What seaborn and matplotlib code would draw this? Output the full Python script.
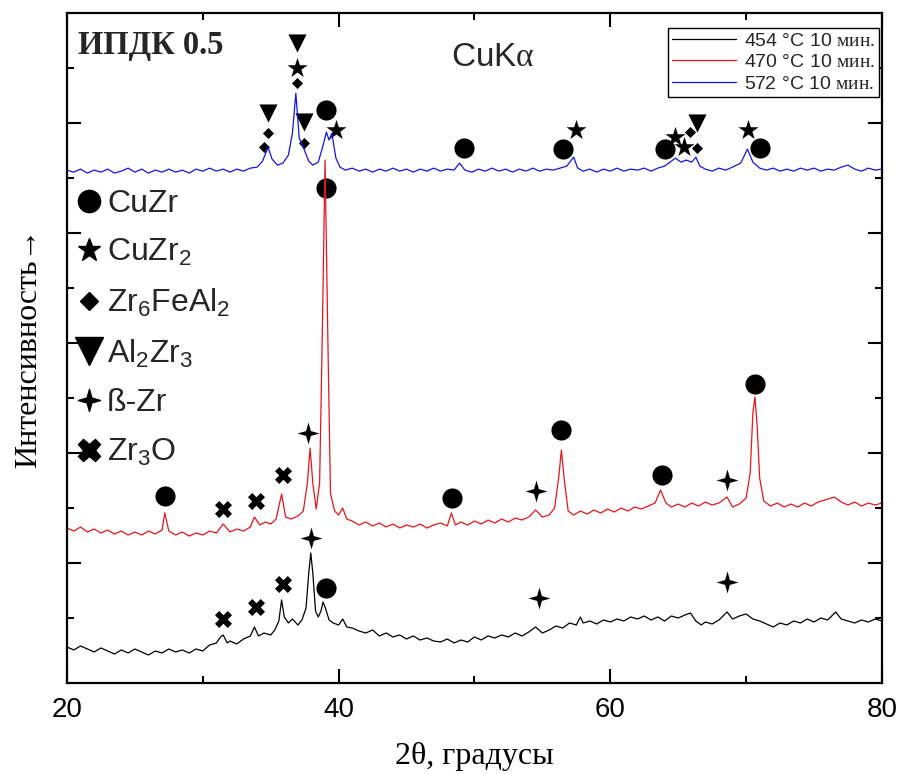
import matplotlib.pyplot as plt
import seaborn as sns
from matplotlib.lines import Line2D
from matplotlib.path import Path

sns.set_theme(style="ticks")
plt.rcParams["font.family"] = ["Liberation Sans", "DejaVu Sans"]
plt.rcParams["mathtext.fontset"] = "custom"
plt.rcParams["mathtext.rm"] = "Liberation Serif"
plt.rcParams["mathtext.default"] = "regular"

# --- XRD patterns (2theta, intensity in arbitrary units, curves already offset) ---
tt_454 = [20.0, 20.5, 21.0, 21.5, 22.0, 22.5, 23.0, 23.5, 24.0, 24.5, 25.0, 25.5, 26.0, 26.5, 27.0,
          27.5, 28.0, 28.5, 29.0, 29.5, 30.0, 30.5, 31.0, 31.3, 31.5, 31.8, 32.0, 32.5, 33.0, 33.5,
          33.8, 34.1, 34.5, 35.0, 35.3, 35.6, 35.8, 36.0, 36.3, 36.6, 37.0, 37.3, 37.6, 37.8, 37.95,
          38.1, 38.3, 38.5, 38.7, 38.85, 39.0, 39.3, 39.6, 40.0, 40.3, 40.6, 41.0, 41.5, 42.0, 42.5,
          43.0, 43.5, 44.0, 44.5, 45.0, 45.5, 46.0, 46.5, 47.0, 47.5, 48.0, 48.5, 49.0, 49.5, 50.0,
          50.5, 51.0, 51.5, 52.0, 52.5, 53.0, 53.5, 54.0, 54.5, 55.0, 55.5, 56.0, 56.5, 57.0, 57.5,
          57.8, 58.0, 58.5, 59.0, 59.5, 60.0, 60.5, 61.0, 61.5, 62.0, 62.5, 63.0, 63.5, 64.0, 64.5,
          65.0, 65.5, 65.9, 66.3, 66.7, 67.0, 67.5, 68.0, 68.6, 69.0, 69.5, 70.0, 70.5, 71.0, 71.5,
          72.0, 72.5, 73.0, 73.5, 74.0, 74.5, 75.0, 75.5, 76.0, 76.6, 77.0, 77.5, 78.0, 78.5, 79.0,
          79.5, 80.0]
i_454 = [36, 33, 37, 34, 31, 35, 32, 29, 33, 30, 34, 31, 28, 32, 30,
         34, 31, 33, 30, 34, 32, 38, 40, 46, 48, 40, 42, 39, 44, 47,
         56, 47, 50, 48, 53, 62, 83, 66, 60, 64, 58, 63, 75, 110, 130,
         110, 72, 66, 72, 81, 76, 63, 60, 58, 64, 56, 55, 52, 50, 53,
         47, 50, 46, 48, 44, 47, 43, 45, 42, 41, 44, 40, 43, 41, 46,
         43, 47, 45, 48, 46, 50, 47, 51, 56, 50, 53, 57, 55, 60, 58,
         66, 60, 62, 59, 63, 61, 64, 62, 66, 64, 67, 63, 66, 62, 67,
         65, 68, 70, 62, 58, 61, 59, 63, 71, 64, 67, 69, 64, 62, 59,
         56, 60, 58, 62, 60, 64, 61, 65, 63, 71, 64, 62, 60, 63, 61,
         64, 62]

tt_470 = [20.0, 20.5, 21.0, 21.5, 22.0, 22.5, 23.0, 23.5, 24.0, 24.5, 25.0, 25.5, 26.0, 26.5, 27.0,
          27.2, 27.5, 28.0, 28.5, 29.0, 29.5, 30.0, 30.5, 31.0, 31.5, 32.0, 32.5, 33.0, 33.5, 33.8,
          34.2, 34.6, 35.0, 35.4, 35.8, 36.1, 36.5, 37.0, 37.4, 37.7, 37.9, 38.1, 38.35, 38.6, 38.8,
          39.0, 39.2, 39.4, 39.7, 40.0, 40.3, 40.6, 41.0, 41.5, 42.0, 42.5, 43.0, 43.5, 44.0, 44.5,
          45.0, 45.5, 46.0, 46.5, 47.0, 47.5, 48.0, 48.3, 48.6, 49.0, 49.5, 50.0, 50.5, 51.0, 51.5,
          52.0, 52.5, 53.0, 53.5, 54.0, 54.5, 55.0, 55.5, 55.9, 56.2, 56.4, 56.6, 56.9, 57.3, 57.8,
          58.3, 58.8, 59.3, 59.8, 60.3, 60.8, 61.3, 61.8, 62.3, 62.8, 63.3, 63.7, 64.1, 64.5, 65.0,
          65.5, 66.0, 66.5, 67.0, 67.5, 68.0, 68.6, 69.0, 69.5, 70.0, 70.3, 70.5, 70.65, 70.8, 71.0,
          71.3, 71.8, 72.3, 72.8, 73.3, 73.8, 74.3, 74.8, 75.3, 75.8, 76.5, 77.0, 77.5, 78.0, 78.5,
          79.0, 79.5, 80.0]
i_470 = [155, 152, 156, 151, 154, 150, 153, 149, 152, 148, 151, 148, 152, 149, 153,
         170, 152, 148, 151, 147, 150, 148, 152, 150, 159, 151, 154, 152, 156, 166,
         158, 161, 159, 164, 189, 166, 164, 167, 172, 200, 235, 200, 174, 200, 350,
         523, 350, 190, 172, 168, 175, 164, 162, 158, 161, 157, 160, 156, 159, 155,
         158, 156, 159, 155, 158, 160, 157, 170, 158, 161, 158, 162, 159, 163, 160,
         164, 161, 165, 163, 166, 173, 166, 168, 175, 205, 233, 205, 172, 168, 172,
         169, 173, 170, 174, 171, 175, 172, 176, 174, 177, 180, 193, 180, 176, 179,
         176, 180, 177, 181, 178, 180, 186, 176, 179, 185, 210, 270, 286, 260, 205,
         182, 177, 180, 176, 179, 176, 180, 177, 181, 183, 186, 181, 178, 181, 177,
         180, 178, 180]

tt_572 = [20.0, 20.5, 21.0, 21.5, 22.0, 22.5, 23.0, 23.5, 24.0, 24.5, 25.0, 25.5, 26.0, 26.5, 27.0,
          27.5, 28.0, 28.5, 29.0, 29.5, 30.0, 30.5, 31.0, 31.5, 32.0, 32.5, 33.0, 33.5, 34.0, 34.4,
          34.8, 35.1, 35.5, 35.9, 36.3, 36.6, 36.85, 37.1, 37.45, 37.8, 38.1, 38.5, 38.8, 39.1, 39.3,
          39.5, 39.8, 40.1, 40.5, 41.0, 41.5, 42.0, 42.5, 43.0, 43.5, 44.0, 44.5, 45.0, 45.5, 46.0,
          46.5, 47.0, 47.5, 48.0, 48.5, 48.9, 49.3, 49.8, 50.3, 50.8, 51.3, 51.8, 52.3, 52.8, 53.3,
          53.8, 54.3, 54.8, 55.3, 55.8, 56.3, 56.8, 57.3, 57.6, 58.0, 58.5, 59.0, 59.5, 60.0, 60.5,
          61.0, 61.5, 62.0, 62.5, 63.0, 63.5, 64.0, 64.8, 65.2, 65.6, 66.0, 66.3, 66.6, 67.0, 67.5,
          68.0, 68.5, 69.0, 69.6, 70.1, 70.5, 71.0, 71.5, 72.0, 72.5, 73.0, 73.5, 74.0, 74.5, 75.0,
          75.5, 76.0, 76.5, 77.0, 77.5, 78.0, 78.5, 79.0, 79.5, 80.0]
i_572 = [513, 511, 514, 510, 513, 511, 514, 510, 512, 515, 511, 514, 510, 513, 511,
         514, 511, 513, 510, 514, 512, 515, 512, 514, 511, 514, 512, 515, 516, 522,
         536, 524, 518, 520, 528, 550, 590, 545, 534, 522, 518, 521, 535, 551, 543,
         550, 525, 516, 513, 515, 512, 514, 511, 514, 512, 515, 512, 514, 511, 514,
         512, 515, 512, 514, 513, 520, 513, 511, 514, 512, 515, 512, 514, 511, 514,
         512, 515, 512, 514, 513, 515, 517, 526, 515, 512, 514, 511, 514, 512, 515,
         512, 514, 513, 515, 512, 515, 517, 525, 521, 523, 521, 526, 517, 514, 512,
         515, 513, 516, 520, 534, 521, 515, 513, 515, 512, 514, 512, 515, 513, 515,
         512, 514, 513, 516, 518, 514, 512, 515, 513, 514]

# --- phase markers ---
cuzr_x = [39.07, 49.2, 56.5, 64.0, 71.0, 39.07, 27.2, 48.35, 56.4, 63.8, 70.65, 39.07]
cuzr_y = [573, 535, 534, 534, 535, 495, 187, 185, 253, 208, 299, 95]
cuzr2_x = [36.9, 39.8, 57.5, 64.8, 65.4, 70.15]
cuzr2_y = [615, 553, 553, 546, 536, 553]
zr6feal2_x = [34.8, 34.5, 36.9, 37.45, 65.9, 66.4]
zr6feal2_y = [550, 536, 600, 540, 551, 535]
al2zr3_x = [34.8, 36.9, 37.45, 66.4]
al2zr3_y = [570, 640, 561, 560]
bzr_x = [37.75, 54.5, 68.6, 38.0, 54.75, 68.6]
bzr_y = [250, 192, 203, 145, 85, 101]
zr3o_x = [31.5, 33.9, 35.9, 31.5, 33.9, 35.9]
zr3o_y = [174, 182, 208, 64, 76, 99]

series_labels = [r"454 °C 10 $\mathrm{мин.}$", r"470 °C 10 $\mathrm{мин.}$", r"572 °C 10 $\mathrm{мин.}$"]
phase_labels = ["CuZr", "CuZr$_2$", "Zr$_6$FeAl$_2$", "Al$_2$Zr$_3$", "ß-Zr", "Zr$_3$O"]

star4 = Path([(0, 1), (0.22, 0.22), (1, 0), (0.22, -0.22), (0, -1), (-0.22, -0.22), (-1, 0),
              (-0.22, 0.22), (0, 1)], closed=True)

fig, ax = plt.subplots(figsize=(8.99, 7.74), dpi=100)
fig.subplots_adjust(left=0.0745, right=0.981, bottom=0.1176, top=0.983)

sns.lineplot(x=tt_454, y=i_454, color="black", lw=0.9, estimator=None, label=series_labels[0], ax=ax)
sns.lineplot(x=tt_470, y=i_470, color="#e8141c", lw=0.9, estimator=None, label=series_labels[1], ax=ax)
sns.lineplot(x=tt_572, y=i_572, color="#1414e6", lw=0.9, estimator=None, label=series_labels[2], ax=ax)

leg1 = ax.legend(loc="upper right", bbox_to_anchor=(0.9963, 0.9776), borderaxespad=0,
                 fontsize=14, frameon=True, fancybox=False, edgecolor="black", framealpha=1,
                 handlelength=3.3, handletextpad=0.4, labelspacing=0.2, borderpad=0.2)
leg1.get_frame().set_linewidth(1.0)

phases = [
    (cuzr_x, cuzr_y, "o", 210),
    (cuzr2_x, cuzr2_y, "*", 230),
    (zr6feal2_x, zr6feal2_y, "D", 32),
    (al2zr3_x, al2zr3_y, "v", 170),
    (bzr_x, bzr_y, star4, 250),
    (zr3o_x, zr3o_y, "X", 150),
]
for px, py, m, s in phases:
    sns.scatterplot(x=px, y=py, marker=m, s=s, color="black", edgecolor="black", linewidth=0, ax=ax)

handles = [
    Line2D([], [], ls="none", marker="o", color="black", markersize=16),
    Line2D([], [], ls="none", marker="*", color="black", markersize=17),
    Line2D([], [], ls="none", marker="D", color="black", markersize=9),
    Line2D([], [], ls="none", marker="v", color="black", markersize=20),
    Line2D([], [], ls="none", marker=star4, color="black", markersize=16),
    Line2D([], [], ls="none", marker="X", color="black", markersize=16),
]
leg2 = ax.legend(handles, phase_labels, loc="upper left", bbox_to_anchor=(0.0, 0.752),
                 borderaxespad=0, frameon=False, fontsize=23, handlelength=0.8,
                 handletextpad=0.15, labelspacing=0.58, borderpad=0.3)
ax.add_artist(leg1)

ax.text(0.0135, 0.952, "ИПДК 0.5", transform=ax.transAxes, fontsize=23.5, fontweight="bold",
        family=["Liberation Serif", "DejaVu Serif"], va="center", ha="left")
ax.text(0.523, 0.934, r"CuK$\mathrm{α}$", transform=ax.transAxes, fontsize=24, va="center", ha="center")

ax.set_xlim(20, 80)
ax.set_ylim(0, 670)
ax.set_xticks([20, 40, 60, 80])
ax.set_xticks([30, 50, 70], minor=True)
ax.set_yticks([120, 230, 340, 450, 560])
ax.set_yticks([65, 175, 285, 395, 505, 615], minor=True)
ax.set_yticklabels([])
ax.tick_params(axis="both", which="both", direction="in", top=True, right=True, color="black",
               width=1.5)
ax.tick_params(axis="both", which="major", length=10)
ax.tick_params(axis="both", which="minor", length=5)
ax.tick_params(axis="x", labelsize=20, pad=10, labelcolor="black")
for sp in ax.spines.values():
    sp.set_linewidth(1.6)
    sp.set_color("black")

ax.set_xlabel("2θ, градусы", fontsize=23, family=["Liberation Serif", "DejaVu Serif"],
              labelpad=14, color="black")
ax.set_ylabel("Интенсивность→", fontsize=23, family=["Liberation Serif", "DejaVu Serif"],
              labelpad=14, color="black")

fig.savefig("out.png", dpi=100)
plt.close()
